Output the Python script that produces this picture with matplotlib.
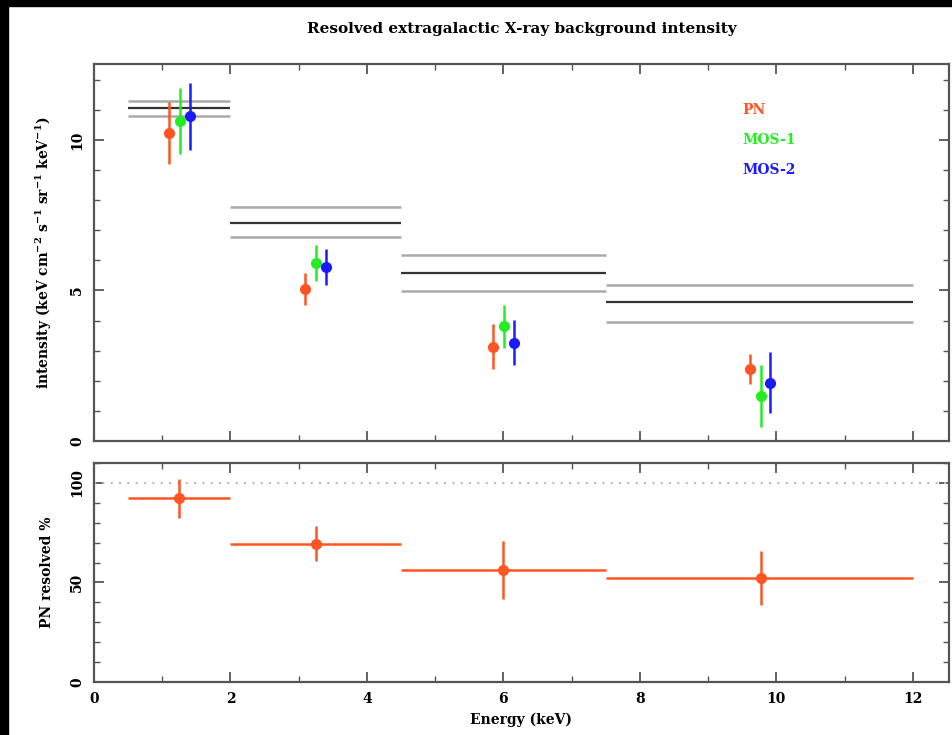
import numpy as np
import matplotlib
matplotlib.use("Agg")
import matplotlib.pyplot as plt
from matplotlib.patches import Rectangle
from matplotlib.ticker import MultipleLocator

# --- bins en énergie (keV) ---
bin_lo = [0.5, 2.0, 4.5, 7.5]
bin_hi = [2.0, 4.5, 7.5, 12.0]

# fond total (ligne noire) + bornes (gris)
xrb_mid = [11.05, 7.25, 5.59, 4.60]
xrb_up = [11.28, 7.78, 6.18, 5.19]
xrb_lo = [10.80, 6.77, 4.99, 3.96]

# intensité résolue par instrument
pn_x = [1.10, 3.09, 5.85, 9.61]
pn_y = [10.24, 5.04, 3.13, 2.39]
pn_err = [1.03, 0.53, 0.75, 0.50]

mos1_x = [1.26, 3.25, 6.01, 9.77]
mos1_y = [10.64, 5.92, 3.81, 1.49]
mos1_err = [1.10, 0.60, 0.72, 1.02]

mos2_x = [1.41, 3.40, 6.16, 9.91]
mos2_y = [10.78, 5.77, 3.27, 1.94]
mos2_err = [1.10, 0.60, 0.75, 1.00]

# fraction résolue PN (%)
frac_x = [1.25, 3.26, 6.00, 9.77]
frac_y = [92.3, 69.5, 56.2, 52.3]
frac_err = [9.7, 8.7, 14.6, 13.5]

C_PN = "#ff5522"
C_M1 = "#22ee22"
C_M2 = "#1a1aff"

plt.rcParams["font.family"] = "DejaVu Serif"
plt.rcParams["font.weight"] = "bold"
plt.rcParams["axes.titleweight"] = "bold"
plt.rcParams["axes.labelweight"] = "bold"
plt.rcParams["mathtext.fontset"] = "dejavuserif"
plt.rcParams["mathtext.default"] = "bf"

fig = plt.figure(figsize=(9.53, 7.35), dpi=100)
fig.patches.append(Rectangle((0, 0), 8 / 953, 1, transform=fig.transFigure, color="black", zorder=10))
fig.patches.append(Rectangle((0, 1 - 6 / 735), 1, 6 / 735, transform=fig.transFigure, color="black", zorder=10))

ax1 = fig.add_axes([0.0986, 0.400, 0.8972, 0.5129])
ax2 = fig.add_axes([0.0986, 0.0721, 0.8972, 0.2980])


def style(ax, ymaj, ymin):
    ax.xaxis.set_major_locator(MultipleLocator(2))
    ax.xaxis.set_minor_locator(MultipleLocator(1))
    ax.yaxis.set_major_locator(MultipleLocator(ymaj))
    ax.yaxis.set_minor_locator(MultipleLocator(ymin))
    ax.tick_params(which="both", direction="in", top=True, right=True, colors="#555555",
                   labelcolor="black", labelsize=10, pad=7)
    ax.tick_params(which="major", length=7, width=1.3)
    ax.tick_params(which="minor", length=4, width=1.0)
    for s in ax.spines.values():
        s.set_color("#555555")
        s.set_linewidth(1.6)
    for lab in ax.get_yticklabels():
        lab.set_rotation(90)
        lab.set_va("center")
        lab.set_fontweight("bold")
    for lab in ax.get_xticklabels():
        lab.set_fontweight("bold")


# --- panneau du haut ---
for i in range(len(bin_lo)):
    ax1.hlines(xrb_up[i], bin_lo[i], bin_hi[i], color="#aaaaaa", lw=1.8)
    ax1.hlines(xrb_lo[i], bin_lo[i], bin_hi[i], color="#aaaaaa", lw=1.8)
    ax1.hlines(xrb_mid[i], bin_lo[i], bin_hi[i], color="#333333", lw=1.6)

for x, y, e, c in [(pn_x, pn_y, pn_err, C_PN), (mos1_x, mos1_y, mos1_err, C_M1), (mos2_x, mos2_y, mos2_err, C_M2)]:
    ax1.errorbar(x, y, yerr=e, fmt="o", color=c, ms=7, elinewidth=1.8, capsize=0)

ax1.text(9.5, 11.0, "PN", color=C_PN, fontsize=10, va="center", fontweight="bold")
ax1.text(9.5, 10.0, "MOS-1", color=C_M1, fontsize=10, va="center", fontweight="bold")
ax1.text(9.5, 9.0, "MOS-2", color=C_M2, fontsize=10, va="center", fontweight="bold")

ax1.set_xlim(0, 12.53)
ax1.set_ylim(0, 12.52)
style(ax1, 5, 1)
ax1.tick_params(labelbottom=False)
ax1.set_ylabel(r"intensity (keV cm$^{-2}$ s$^{-1}$ sr$^{-1}$ keV$^{-1}$)", fontsize=10, labelpad=12)
ax1.set_title("Resolved extragalactic X-ray background intensity", fontsize=11, pad=22)

# --- panneau du bas ---
ax2.axhline(100, color="#bbbbbb", lw=1.5, ls=(0, (1, 3)))
xerr = [[x - lo for x, lo in zip(frac_x, bin_lo)], [hi - x for x, hi in zip(frac_x, bin_hi)]]
ax2.errorbar(frac_x, frac_y, yerr=frac_err, xerr=xerr, fmt="o", color=C_PN, ms=7,
             elinewidth=1.8, capsize=0)
ax2.set_xlim(0, 12.53)
ax2.set_ylim(0, 110)
style(ax2, 50, 10)
ax2.set_ylabel("PN resolved %", fontsize=10, labelpad=12)
ax2.set_xlabel("Energy (keV)", fontsize=10, labelpad=5)

fig.savefig("out.png", dpi=100, facecolor="white")
